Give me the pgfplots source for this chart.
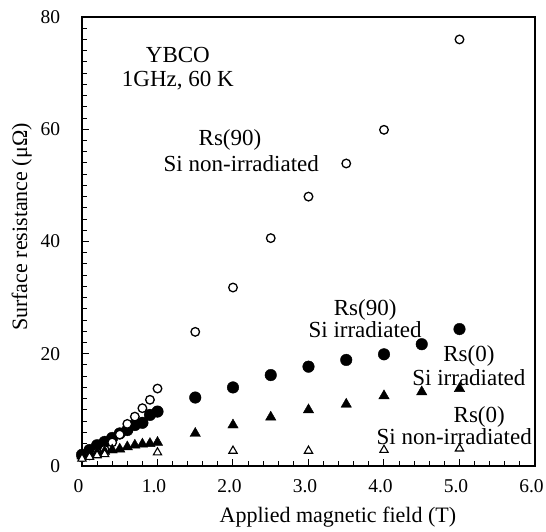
\documentclass[border=0pt]{standalone}
\usepackage{pgfplots}
\pgfplotsset{compat=1.18}
\usepackage{fontspec}
\setmainfont{Liberation Serif}
\begin{document}
\fontsize{23}{27}\selectfont
\begin{tikzpicture}[every node/.style={font=\fontsize{23}{27}\selectfont}]
\begin{axis}[
  scale only axis,
  width=453pt, height=449pt,
  xmin=0, xmax=6, ymin=0, ymax=80,
  xtick={0,1,2,3,4,5,6},
  xticklabels={0,1.0,2.0,3.0,4.0,5.0,6.0},
  ytick={0,20,40,60,80},
  minor x tick num=4,
  minor y tick num=9,
  tick pos=left,
  tick align=inside,
  major tick length=7pt,
  minor tick length=5pt,
  axis line style={line width=1.3pt},
  every tick/.style={black, line width=1pt},
  tick label style={font=\fontsize{19.5}{24}\selectfont},
  /pgf/number format/assume math mode=true,
  xticklabel style={yshift=-6pt, xshift=-3.5pt},
  yticklabel style={xshift=-14pt},
  xlabel={Applied magnetic field (T)},
  ylabel={Surface resistance (μΩ)},
  label style={font=\fontsize{22}{26}\selectfont},
  xlabel style={at={(axis description cs:0.565,-0.114)}, anchor=center},
  ylabel style={at={(axis description cs:-0.133,0.532)}, anchor=center},
  clip=false,
]
% Rs(90) Si irradiated (filled circles)
\addplot[only marks, mark=*, mark size=5.8pt, black] coordinates {
(0,2.0)(0.1,2.85)(0.2,3.7)(0.3,4.3)(0.4,5.0)(0.5,5.8)(0.6,6.4)(0.7,7.3)(0.8,7.7)(0.9,9.1)(1.0,9.7)
(1.5,12.2)(2.0,14.0)(2.5,16.2)(3.0,17.7)(3.5,18.9)(4.0,19.9)(4.5,21.7)(5.0,24.4)};
% Rs(90) Si non-irradiated (open circles)
\addplot[only marks, mark=*, mark size=4.3pt, black, mark options={fill=white, line width=1.3pt}] coordinates {
(0,1.5)(0.1,1.9)(0.2,2.4)(0.3,2.9)(0.4,4.2)(0.5,5.6)(0.6,7.5)(0.7,8.8)(0.8,10.3)(0.9,11.8)(1.0,13.8)
(1.5,23.9)(2.0,31.8)(2.5,40.6)(3.0,48.0)(3.5,53.9)(4.0,59.9)(5.0,76.0)};
% Rs(0) Si irradiated (filled triangles)
\addplot[only marks, mark=triangle*, mark size=6pt, black] coordinates {
(0,1.8)(0.1,2.1)(0.2,2.4)(0.3,2.6)(0.4,2.85)(0.5,3.0)(0.6,3.4)(0.7,3.7)(0.8,3.9)(0.9,4.0)(1.0,4.2)
(1.5,5.8)(2.0,7.3)(2.5,8.7)(3.0,10.0)(3.5,11.0)(4.0,12.5)(4.5,13.2)(5.0,13.8)};
% Rs(0) Si non-irradiated (open triangles)
\addplot[only marks, mark=triangle*, mark size=4.8pt, black, mark options={fill=white, line width=1.1pt}] coordinates {
(0,1.3)(0.1,1.6)(0.2,1.9)(0.3,2.1)(1.0,2.4)(2.0,2.7)(3.0,2.7)(4.0,2.85)(5.0,3.1)};
\node[inner sep=0pt] at (axis cs:1.27,73.2) {YBCO};
\node[inner sep=0pt] at (axis cs:1.27,68.6) {1GHz, 60 K};
\node[inner sep=0pt] at (axis cs:1.96,58.1) {Rs(90)};
\node[inner sep=0pt] at (axis cs:2.11,53.9) {Si non-irradiated};
\node[inner sep=0pt, align=center, font=\fontsize{23}{19.5}\selectfont] at (axis cs:3.75,26.3) {Rs(90)\\Si irradiated};
\node[inner sep=0pt, align=center, font=\fontsize{23}{24.5}\selectfont] at (axis cs:5.125,17.85) {Rs(0)\\Si irradiated};
\node[inner sep=0pt, align=left, font=\fontsize{23}{17}\selectfont] at (axis cs:4.93,7.18) {\hspace*{3.35em}Rs(0)\\Si non-irradiated};
\end{axis}
\pgfresetboundingbox
\path (current axis.south west) ++(-82pt,-65pt) rectangle ++(546pt,531pt);
\end{tikzpicture}
\end{document}
